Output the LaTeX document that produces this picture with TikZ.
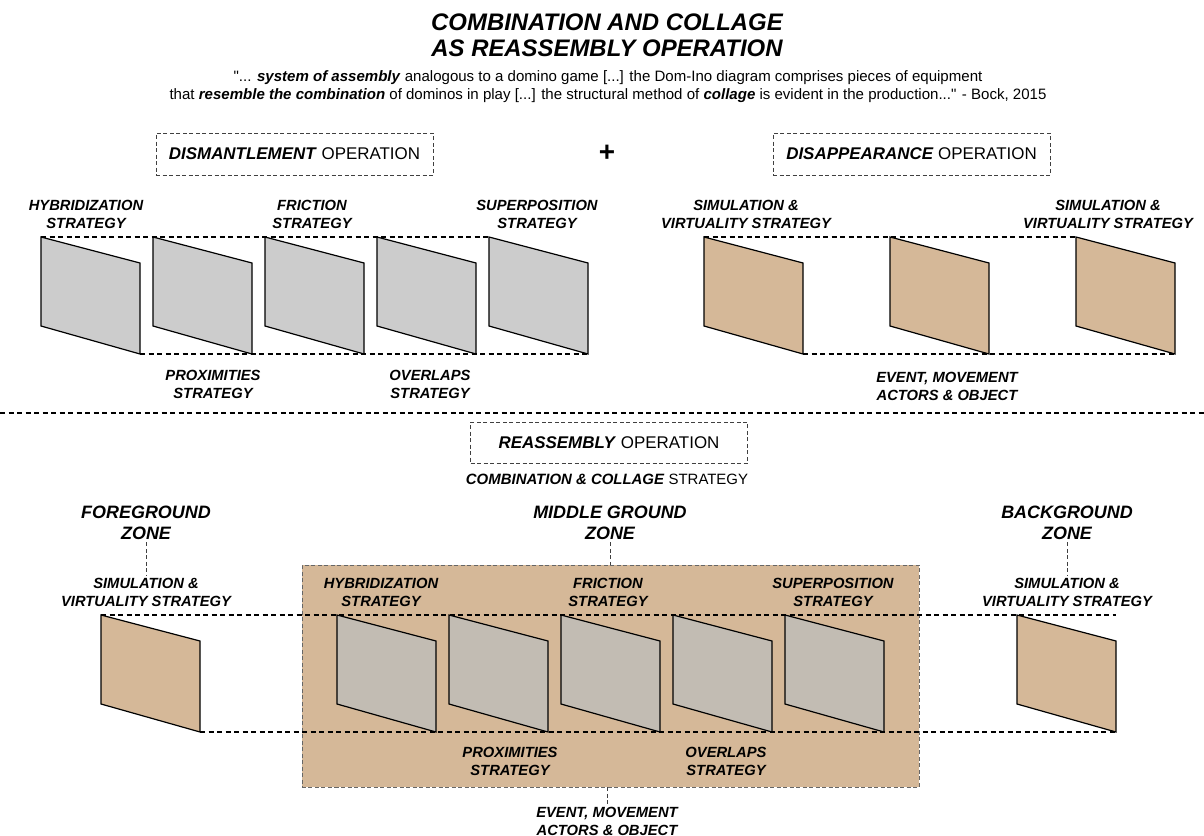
\documentclass[tikz,border=0pt]{standalone}
\usepackage{fontspec}
\setmainfont{Liberation Sans}
\usetikzlibrary{positioning}
\definecolor{slabgrey}{HTML}{CCCCCC}
\definecolor{tanfill}{HTML}{D5B898}
\definecolor{slabmix}{HTML}{C2BCB3}
\tikzset{every path/.style={line width=1bp}}
\tikzset{
  strat/.style={font=\fontsize{14.8}{18}\selectfont\bfseries\itshape, align=center, inner sep=2bp},
  zone/.style={font=\fontsize{18}{21}\selectfont\bfseries\itshape, align=center, inner sep=2bp},
  opbox/.style={draw=black!75, dash pattern=on 4bp off 2.5bp, line width=0.8bp,
    minimum width=277bp, minimum height=42bp, font=\fontsize{17}{20}\selectfont},
  guide/.style={dash pattern=on 5bp off 3.5bp, line width=1.1bp},
  tick/.style={draw=black!75, dash pattern=on 4bp off 2.5bp, line width=0.8bp}
}
\newcommand{\slab}[4]{
  \filldraw[fill=#4, line width=1.2bp] (#2,#3) coordinate (#1) -- ++(99,26) -- ++(0,91) coordinate (#1-br) -- ++(-99,-28) -- cycle;
}
\newcommand{\bi}[1]{\textbf{\textit{#1}}}

\begin{document}
\begin{tikzpicture}[x=1bp,y=-1bp]
    \useasboundingbox (0,0) rectangle (1204,836);

    % Title and quote
    \node[font=\fontsize{24}{26}\selectfont\bfseries\itshape, align=center] (title) at (607,35)
      {COMBINATION AND COLLAGE\\AS REASSEMBLY OPERATION};
    \node[font=\fontsize{15.1}{18}\selectfont, align=center] (quote) at (608,87)
      {\textquotedbl... \bi{system of assembly} analogous to a domino game [...] the Dom-Ino diagram comprises pieces of equipment\\
       that \bi{resemble the combination} of dominos in play [...] the structural method of \bi{collage} is evident in the production...\textquotedbl{} - Bock, 2015};

    % Operations
    \node[opbox] (dism) at (294.5,154) {\bi{DISMANTLEMENT} OPERATION};
    \node[font=\fontsize{28}{28}\selectfont\bfseries] (plus) at (607,153) {+};
    \node[opbox] (disa) at (911.5,154) {\bi{DISAPPEARANCE} OPERATION};

    % Dismantlement strategies
    \slab{d1}{41}{237}{slabgrey}
    \slab{d2}{153}{237}{slabgrey}
    \slab{d3}{265}{237}{slabgrey}
    \slab{d4}{377}{237}{slabgrey}
    \slab{d5}{489}{237}{slabgrey}
    \draw[guide] (d1) -- (d5);
    \draw[guide] (d1-br) -- (d5-br);
    \node[strat] (hyb) at (86,214) {HYBRIDIZATION\\STRATEGY};
    \node[strat] (fric) at (312,214) {FRICTION\\STRATEGY};
    \node[strat] (sup) at (537,214) {SUPERPOSITION\\STRATEGY};
    \node[strat] (prox) at (213,384) {PROXIMITIES\\STRATEGY};
    \node[strat] (ovl) at (430,384) {OVERLAPS\\STRATEGY};

    % Disappearance strategies
    \slab{v1}{704}{237}{tanfill}
    \slab{v2}{890}{237}{tanfill}
    \slab{v3}{1076}{237}{tanfill}
    \draw[guide] (v1) -- (v3);
    \draw[guide] (v1-br) -- (v3-br);
    \node[strat] (sim1) at (746,214) {SIMULATION \&\\VIRTUALITY STRATEGY};
    \node[strat] (sim2) at (1108,214) {SIMULATION \&\\VIRTUALITY STRATEGY};
    \node[strat] (evt) at (947,386) {EVENT, MOVEMENT\\ACTORS \& OBJECT};

    \draw[guide] (0,413) coordinate (sepl) -- (1204,413) coordinate (sepr);

    % Reassembly
    \node[opbox, minimum height=41bp] (reas) at (609,442.5) {\bi{REASSEMBLY} OPERATION};
    \node[font=\fontsize{15}{18}\selectfont, inner sep=1bp] (comb) at (607,479) {\bi{COMBINATION \& COLLAGE} STRATEGY};

    \node[zone] (fgzone) at (146,523) {FOREGROUND\\ZONE};
    \node[zone] (midzone) at (610,523) {MIDDLE GROUND\\ZONE};
    \node[zone] (bgzone) at (1067,523) {BACKGROUND\\ZONE};

    \node[draw=black!60, fill=tanfill, dash pattern=on 4bp off 2.5bp, line width=0.8bp,
      minimum width=617bp, minimum height=222bp] (midbox) at (610.5,676) {};

    \node[strat] (fgsim) at (146,592) {SIMULATION \&\\VIRTUALITY STRATEGY};
    \node[strat] (bgsim) at (1067,592) {SIMULATION \&\\VIRTUALITY STRATEGY};
    \draw[tick] (fgzone.south) -- (fgsim.north);
    \draw[tick] (bgzone.south) -- (bgsim.north);
    \draw[tick] (midzone.south) -- (midzone.south |- midbox.north);

    \slab{f1}{101}{615}{tanfill}
    \slab{m1}{337}{615}{slabmix}
    \slab{m2}{449}{615}{slabmix}
    \slab{m3}{561}{615}{slabmix}
    \slab{m4}{673}{615}{slabmix}
    \slab{m5}{785}{615}{slabmix}
    \slab{b1}{1017}{615}{tanfill}
    \draw[guide] (f1) -- (b1 -| b1-br);
    \draw[guide] (f1-br) -- (b1-br);

    \node[strat] (hyb2) at (381,592) {HYBRIDIZATION\\STRATEGY};
    \node[strat] (fric2) at (608,592) {FRICTION\\STRATEGY};
    \node[strat] (sup2) at (833,592) {SUPERPOSITION\\STRATEGY};
    \node[strat] (prox2) at (510,761) {PROXIMITIES\\STRATEGY};
    \node[strat] (ovl2) at (726,761) {OVERLAPS\\STRATEGY};

    \node[strat] (evt2) at (607,821) {EVENT, MOVEMENT\\ACTORS \& OBJECT};
    \draw[tick] (midbox.south -| evt2.north) -- (evt2.north);
  \end{tikzpicture}
\end{document}
